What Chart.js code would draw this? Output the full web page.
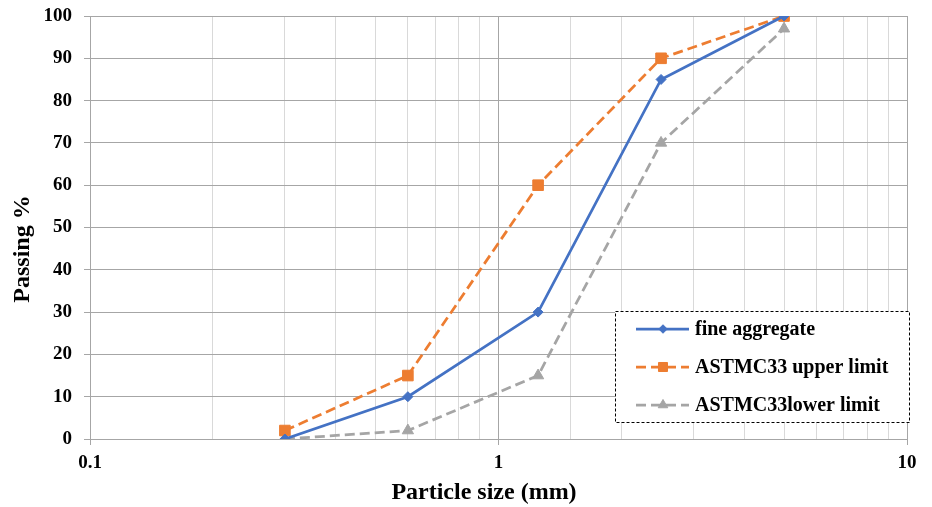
<!DOCTYPE html>
<html>
<head>
<meta charset="utf-8">
<script src="https://cdn.jsdelivr.net/npm/chart.js@4.4.1/dist/chart.umd.min.js"></script>
<style>
  html, body { margin: 0; padding: 0; background: #fff; }
  #wrap { width: 932px; height: 507px; }
</style>
</head>
<body>
<div id="wrap"><canvas id="gradingChart" width="932" height="507"></canvas></div>
<script>
// sieve sizes (mm) and percent passing
const sieveSizes   = [0.3, 0.6, 1.25, 2.5, 5];
const fineAgg      = [0, 10, 30, 85, 100];
const upperLimit   = [2, 15, 60, 90, 100];
const lowerLimit   = [0, 2, 15, 70, 97];
const seriesNames  = ['fine aggregate', 'ASTMC33 upper limit', 'ASTMC33lower limit'];
const xTickLabels  = [0.1, 1, 10];
const xTitle = 'Particle size (mm)';
const yTitle = 'Passing %';

const FONT = '"Liberation Serif", "Times New Roman", serif';
const isDecade = v => Math.abs(Math.log10(v) - Math.round(Math.log10(v))) < 1e-6;
const pts = ys => sieveSizes.map((x, i) => ({ x, y: ys[i] }));

// axis titles, placed a little off the plot centre like the Excel layout
const axisTitles = {
  id: 'axisTitles',
  afterDraw(chart) {
    const { ctx } = chart;
    ctx.save();
    ctx.fillStyle = '#000';
    ctx.font = 'bold 24px ' + FONT;
    ctx.textAlign = 'center';
    ctx.textBaseline = 'middle';
    ctx.fillText(xTitle, 484, 493);
    ctx.translate(23, 249);
    ctx.rotate(-Math.PI / 2);
    ctx.fillText(yTitle, 0, 0);
    ctx.restore();
  }
};

// dashed-border legend sitting inside the plot, lower right
const boxLegend = {
  id: 'boxLegend',
  afterDraw(chart) {
    const { ctx } = chart;
    const x0 = 615, y0 = 311, w = 294, h = 111;
    ctx.save();
    ctx.fillStyle = '#fff';
    ctx.fillRect(x0, y0, w, h);
    ctx.setLineDash([3, 2]);
    ctx.strokeStyle = '#000';
    ctx.lineWidth = 1;
    ctx.strokeRect(x0 + 0.5, y0 + 0.5, w, h);

    chart.data.datasets.forEach((ds, i) => {
      const y = y0 + 18 + i * 38;
      ctx.setLineDash(ds.borderDash || []);
      ctx.strokeStyle = ds.borderColor;
      ctx.lineWidth = ds.borderWidth;
      ctx.beginPath();
      ctx.moveTo(636, y);
      ctx.lineTo(689, y);
      ctx.stroke();
      ctx.setLineDash([]);
      ctx.fillStyle = ds.backgroundColor;
      ctx.strokeStyle = ds.borderColor;
      ctx.lineWidth = 1;
      Chart.helpers.drawPoint(ctx, {
        pointStyle: ds.pointStyle, radius: ds.pointRadius * 0.85,
        borderWidth: 1, rotation: 0
      }, 663, y);
      ctx.fillStyle = '#000';
      ctx.font = 'bold 20px ' + FONT;
      ctx.textBaseline = 'middle';
      ctx.fillText(ds.label, 695, y + 1);
    });
    ctx.restore();
  }
};

new Chart(document.getElementById('gradingChart'), {
  type: 'scatter',
  data: {
    datasets: [
      {
        label: seriesNames[0], data: pts(fineAgg), showLine: true,
        borderColor: '#4472C4', backgroundColor: '#4472C4', borderWidth: 2.75,
        pointStyle: 'rectRot', pointRadius: 5, pointBorderWidth: 1
      },
      {
        label: seriesNames[1], data: pts(upperLimit), showLine: true,
        borderColor: '#ED7D31', backgroundColor: '#ED7D31', borderWidth: 2.75,
        borderDash: [10, 5], pointStyle: 'rect', pointRadius: 7.5, pointBorderWidth: 1
      },
      {
        label: seriesNames[2], data: pts(lowerLimit), showLine: true,
        borderColor: '#A5A5A5', backgroundColor: '#A5A5A5', borderWidth: 2.75,
        borderDash: [10, 5], pointStyle: 'triangle', pointRadius: 6.5, pointBorderWidth: 1
      }
    ]
  },
  options: {
    responsive: false,
    animation: false,
    layout: { padding: { top: 16, right: 25, left: 0, bottom: 0 } },
    plugins: { legend: { display: false }, tooltip: { enabled: false } },
    scales: {
      x: {
        type: 'logarithmic', min: 0.1, max: 10,
        afterFit: s => { s.height = 68; s.paddingLeft = 0; s.paddingRight = 0; },
        grid: {
          color: c => isDecade(c.tick.value) ? '#a6a6a6' : '#d9d9d9',
          tickColor: c => isDecade(c.tick.value) ? '#a6a6a6' : 'rgba(0,0,0,0)',
          tickLength: 6, lineWidth: 1
        },
        border: { color: '#a6a6a6' },
        ticks: {
          autoSkip: false, maxRotation: 0, padding: 7, color: '#000',
          font: { family: FONT, size: 19, weight: 'bold' },
          callback: v => xTickLabels.some(t => Math.abs(t - v) < 1e-9) ? String(Number(v.toPrecision(3))) : ''
        }
      },
      y: {
        min: 0, max: 100,
        afterFit: s => { s.width = 90; s.paddingTop = 0; s.paddingBottom = 0; },
        grid: { color: '#a6a6a6', tickLength: 6, lineWidth: 1 },
        border: { color: '#a6a6a6' },
        ticks: {
          stepSize: 10, padding: 12, color: '#000',
          font: { family: FONT, size: 19, weight: 'bold' }
        }
      }
    }
  },
  plugins: [boxLegend, axisTitles]
});
</script>
</body>
</html>
